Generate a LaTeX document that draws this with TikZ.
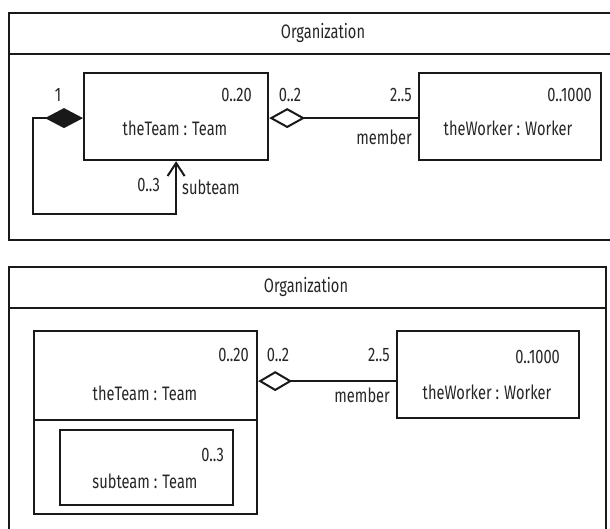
\documentclass[tikz,border=0pt]{standalone}
\usepackage{fontspec}
\setmainfont{Fira Sans}[FakeStretch=0.75]
\usetikzlibrary{arrows.meta,calc}

\begin{document}
\begin{tikzpicture}[x=1pt,y=-1pt,
  box/.style={draw=black!90, line width=2.2pt, inner sep=0pt, anchor=north west},
  lbl/.style={inner sep=0pt, text=black!85, font=\fontsize{19.5}{22}\selectfont},
  link/.style={draw=black!90, line width=2pt},
]
\useasboundingbox (0,0) rectangle (610,529);
\clip (0,0) rectangle (610,529);

% ---------- upper diagram: self association ----------
\node[box, minimum width=632pt, minimum height=41pt]  (org1head) at (8,12) {};
\node[box, minimum width=632pt, minimum height=186pt] (org1body) at (8,53) {};
\node[lbl] (org1title) at (323,33) {Organization};

\node[box, minimum width=184pt, minimum height=87pt] (team1)   at (83,72) {};
\node[box, minimum width=182pt, minimum height=87pt] (worker1) at (418,72) {};

\node[lbl] (team1name) at (175,128) {theTeam : Team};
\node[lbl, anchor=east] (team1mult) at (252,95) {0..20};
\node[lbl] (worker1name) at (508,128) {theWorker : Worker};
\node[lbl, anchor=east] (worker1mult) at (592,95) {0..1000};

% aggregation team -> worker
\draw[link, {Diamond[open,length=36pt,width=20pt]}-]
  ([yshift=-1.5pt]team1.east) -- ([yshift=-1.5pt]worker1.west);
\node[lbl] (agg1a) at (290,95) {0..2};
\node[lbl, anchor=east] (agg1b) at (412,95) {2..5};
\node[lbl, anchor=east] (agg1role) at (412,137) {member};

% composition loop team -> team
\coordinate (loop1) at (33,214);
\draw[link, {Diamond[length=38pt,width=20pt]}-{Straight Barb[length=13pt,width=17pt]}]
  ([yshift=-1.5pt]team1.west) -| (loop1) -| (team1.south);
\node[lbl] (comp1a) at (58,95) {1};
\node[lbl, anchor=east] (comp1b) at (160,185) {0..3};
\node[lbl, anchor=west] (comp1role) at (182,187) {subteam};

% ---------- lower diagram: nested part ----------
\node[box, minimum width=597pt, minimum height=41pt]  (org2head) at (8,266) {};
\node[box, minimum width=597pt, minimum height=240pt] (org2body) at (8,307) {};
\node[lbl] (org2title) at (306,287) {Organization};

\node[box, minimum width=223pt, minimum height=89pt] (team2head) at (33,330) {};
\node[box, minimum width=223pt, minimum height=94pt] (team2body) at (33,419) {};
\node[box, minimum width=173pt, minimum height=75pt] (sub2) at (59,429) {};
\node[box, minimum width=182pt, minimum height=87pt] (worker2) at (396,330) {};

\node[lbl] (team2name) at (145,393) {theTeam : Team};
\node[lbl, anchor=east] (team2mult) at (249,355) {0..20};
\node[lbl] (sub2name) at (145,481) {subteam : Team};
\node[lbl, anchor=east] (sub2mult) at (224,455) {0..3};
\node[lbl] (worker2name) at (487,392) {theWorker : Worker};
\node[lbl, anchor=east] (worker2mult) at (560,357) {0..1000};

\draw[link, {Diamond[open,length=34pt,width=20pt]}-]
  ([yshift=-5.5pt]team2head.east) -- ([yshift=-5.5pt]team2head.east -| worker2.west);
\node[lbl] (agg2a) at (278,355) {0..2};
\node[lbl, anchor=east] (agg2b) at (390,355) {2..5};
\node[lbl, anchor=east] (agg2role) at (390,395) {member};
\end{tikzpicture}
\end{document}
